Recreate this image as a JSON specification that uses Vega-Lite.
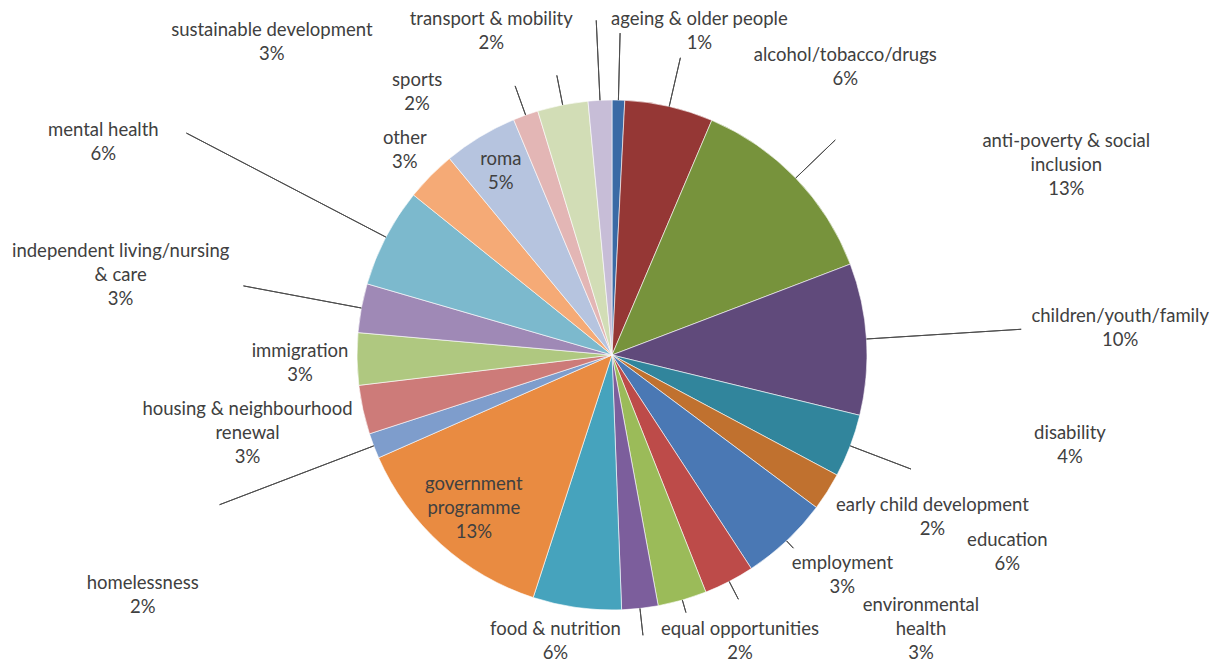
{
  "$schema": "https://vega.github.io/schema/vega-lite/v6.json",
  "width": 1216,
  "height": 614,
  "autosize": {"type": "none"},
  "padding": {"left": 4, "top": 48, "right": 0, "bottom": 0},
  "background": "white",
  "config": {
    "view": {"stroke": null},
    "text": {"font": "Lato", "fontSize": 18.5, "lineHeight": 24, "color": "#404040", "align": "center", "baseline": "middle", "lineBreak": "\n"}
  },
  "data": {
    "values": [
      {"category": "ageing & older people", "percent": 0.8},
      {"category": "alcohol/tobacco/drugs", "percent": 5.6},
      {"category": "anti-poverty & social\ninclusion", "percent": 12.8},
      {"category": "children/youth/family", "percent": 9.6},
      {"category": "disability", "percent": 4.0},
      {"category": "early child development", "percent": 2.4},
      {"category": "education", "percent": 5.6},
      {"category": "employment", "percent": 3.2},
      {"category": "environmental\nhealth", "percent": 3.1},
      {"category": "equal opportunities", "percent": 2.3},
      {"category": "food & nutrition", "percent": 5.6},
      {"category": "government\nprogramme", "percent": 13.4},
      {"category": "homelessness", "percent": 1.6},
      {"category": "housing & neighbourhood\nrenewal", "percent": 3.1},
      {"category": "immigration", "percent": 3.3},
      {"category": "independent living/nursing\n& care", "percent": 3.1},
      {"category": "mental health", "percent": 6.3},
      {"category": "other", "percent": 3.2},
      {"category": "roma", "percent": 4.7},
      {"category": "sports", "percent": 1.6},
      {"category": "sustainable development", "percent": 3.2},
      {"category": "transport & mobility", "percent": 1.5}
    ]
  },
  "transform": [
    {"stack": "percent", "groupby": [], "sort": [{"field": "category", "order": "ascending"}], "as": ["start", "end"]},
    {"calculate": "(datum.start + datum.end) / 2", "as": "mid"},
    {"calculate": "datum.category + '\\n' + format(datum.percent, '.0f') + '%'", "as": "label"}
  ],
  "layer": [
    {
      "mark": {"type": "arc", "radius": 255, "stroke": "#ffffff", "strokeWidth": 0.6},
      "encoding": {
        "theta": {"field": "start", "type": "quantitative", "scale": {"domain": [0, 100]}},
        "theta2": {"field": "end"},
        "color": {
          "field": "category", "type": "nominal", "legend": null,
          "scale": {
            "domain": ["ageing & older people", "alcohol/tobacco/drugs", "anti-poverty & social\ninclusion", "children/youth/family", "disability", "early child development", "education", "employment", "environmental\nhealth", "equal opportunities", "food & nutrition", "government\nprogramme", "homelessness", "housing & neighbourhood\nrenewal", "immigration", "independent living/nursing\n& care", "mental health", "other", "roma", "sports", "sustainable development", "transport & mobility"],
            "range": ["#3a6aa5", "#953735", "#77933c", "#604a7b", "#31859c", "#c0712f", "#4a78b4", "#bd4b49", "#9bbb59", "#7c5e9c", "#46a3bd", "#e98b41", "#7e9dcc", "#cd7b79", "#afc880", "#9f89b6", "#7cb9cd", "#f5aa76", "#b6c4df", "#e3b6b5", "#d2ddb6", "#c7bdd7"]
          }
        }
      }
    },
    {"transform": [{"filter": {"field": "category", "equal": "ageing & older people"}}], "mark": {"type": "arc", "radius": 322, "radius2": 255, "padAngle": 3.1, "filled": false, "color": "#4d4d4d", "strokeWidth": 1}, "encoding": {"theta": {"field": "start", "type": "quantitative"}, "theta2": {"field": "end"}}},
    {"transform": [{"filter": {"field": "category", "equal": "transport & mobility"}}], "mark": {"type": "arc", "radius": 335, "radius2": 255, "padAngle": 3.1, "filled": false, "color": "#4d4d4d", "strokeWidth": 1}, "encoding": {"theta": {"field": "start", "type": "quantitative"}, "theta2": {"field": "end"}}},
    {"transform": [{"filter": {"field": "category", "equal": "sustainable development"}}], "mark": {"type": "arc", "radius": 285, "radius2": 255, "padAngle": 3.1, "filled": false, "color": "#4d4d4d", "strokeWidth": 1}, "encoding": {"theta": {"field": "start", "type": "quantitative"}, "theta2": {"field": "end"}}},
    {"transform": [{"filter": {"field": "category", "equal": "sports"}}], "mark": {"type": "arc", "radius": 286, "radius2": 255, "padAngle": 3.1, "filled": false, "color": "#4d4d4d", "strokeWidth": 1}, "encoding": {"theta": {"field": "start", "type": "quantitative"}, "theta2": {"field": "end"}}},
    {"transform": [{"filter": {"field": "category", "equal": "alcohol/tobacco/drugs"}}], "mark": {"type": "arc", "radius": 305, "radius2": 255, "padAngle": 3.1, "filled": false, "color": "#4d4d4d", "strokeWidth": 1}, "encoding": {"theta": {"field": "start", "type": "quantitative"}, "theta2": {"field": "end"}}},
    {"transform": [{"filter": {"field": "category", "equal": "anti-poverty & social\ninclusion"}}], "mark": {"type": "arc", "radius": 310, "radius2": 255, "padAngle": 3.1, "filled": false, "color": "#4d4d4d", "strokeWidth": 1}, "encoding": {"theta": {"field": "start", "type": "quantitative"}, "theta2": {"field": "end"}}},
    {"transform": [{"filter": {"field": "category", "equal": "children/youth/family"}}], "mark": {"type": "arc", "radius": 410, "radius2": 255, "padAngle": 3.1, "filled": false, "color": "#4d4d4d", "strokeWidth": 1}, "encoding": {"theta": {"field": "start", "type": "quantitative"}, "theta2": {"field": "end"}}},
    {"transform": [{"filter": {"field": "category", "equal": "disability"}}], "mark": {"type": "arc", "radius": 320, "radius2": 255, "padAngle": 3.1, "filled": false, "color": "#4d4d4d", "strokeWidth": 1}, "encoding": {"theta": {"field": "start", "type": "quantitative"}, "theta2": {"field": "end"}}},
    {"transform": [{"filter": {"field": "category", "equal": "education"}}], "mark": {"type": "arc", "radius": 265, "radius2": 255, "padAngle": 3.1, "filled": false, "color": "#4d4d4d", "strokeWidth": 1}, "encoding": {"theta": {"field": "start", "type": "quantitative"}, "theta2": {"field": "end"}}},
    {"transform": [{"filter": {"field": "category", "equal": "employment"}}], "mark": {"type": "arc", "radius": 275, "radius2": 255, "padAngle": 3.1, "filled": false, "color": "#4d4d4d", "strokeWidth": 1}, "encoding": {"theta": {"field": "start", "type": "quantitative"}, "theta2": {"field": "end"}}},
    {"transform": [{"filter": {"field": "category", "equal": "environmental\nhealth"}}], "mark": {"type": "arc", "radius": 268, "radius2": 255, "padAngle": 3.1, "filled": false, "color": "#4d4d4d", "strokeWidth": 1}, "encoding": {"theta": {"field": "start", "type": "quantitative"}, "theta2": {"field": "end"}}},
    {"transform": [{"filter": {"field": "category", "equal": "equal opportunities"}}], "mark": {"type": "arc", "radius": 282, "radius2": 255, "padAngle": 3.1, "filled": false, "color": "#4d4d4d", "strokeWidth": 1}, "encoding": {"theta": {"field": "start", "type": "quantitative"}, "theta2": {"field": "end"}}},
    {"transform": [{"filter": {"field": "category", "equal": "homelessness"}}], "mark": {"type": "arc", "radius": 420, "radius2": 255, "padAngle": 3.1, "filled": false, "color": "#4d4d4d", "strokeWidth": 1}, "encoding": {"theta": {"field": "start", "type": "quantitative"}, "theta2": {"field": "end"}}},
    {"transform": [{"filter": {"field": "category", "equal": "independent living/nursing\n& care"}}], "mark": {"type": "arc", "radius": 375, "radius2": 255, "padAngle": 3.1, "filled": false, "color": "#4d4d4d", "strokeWidth": 1}, "encoding": {"theta": {"field": "start", "type": "quantitative"}, "theta2": {"field": "end"}}},
    {"transform": [{"filter": {"field": "category", "equal": "mental health"}}], "mark": {"type": "arc", "radius": 480, "radius2": 255, "padAngle": 3.1, "filled": false, "color": "#4d4d4d", "strokeWidth": 1}, "encoding": {"theta": {"field": "start", "type": "quantitative"}, "theta2": {"field": "end"}}},
    {"transform": [{"filter": {"field": "category", "equal": "ageing & older people"}}], "mark": {"type": "text", "radius": 335, "dx": 79, "dy": -1}, "encoding": {"theta": {"field": "mid", "type": "quantitative"}, "text": {"field": "label"}}},
    {"transform": [{"filter": {"field": "category", "equal": "alcohol/tobacco/drugs"}}], "mark": {"type": "text", "radius": 300, "dx": 166, "dy": -8}, "encoding": {"theta": {"field": "mid", "type": "quantitative"}, "text": {"field": "label"}}},
    {"transform": [{"filter": {"field": "category", "equal": "anti-poverty & social\ninclusion"}}], "mark": {"type": "text", "radius": 310, "dx": 231, "dy": 1}, "encoding": {"theta": {"field": "mid", "type": "quantitative"}, "text": {"field": "label"}}},
    {"transform": [{"filter": {"field": "category", "equal": "children/youth/family"}}], "mark": {"type": "text", "radius": 410, "dx": 99, "dy": -13}, "encoding": {"theta": {"field": "mid", "type": "quantitative"}, "text": {"field": "label"}}},
    {"transform": [{"filter": {"field": "category", "equal": "disability"}}], "mark": {"type": "text", "radius": 320, "dx": 159, "dy": -36}, "encoding": {"theta": {"field": "mid", "type": "quantitative"}, "text": {"field": "label"}}},
    {"transform": [{"filter": {"field": "category", "equal": "early child development"}}], "mark": {"type": "text", "radius": 280, "dx": 84, "dy": 0}, "encoding": {"theta": {"field": "mid", "type": "quantitative"}, "text": {"field": "label"}}},
    {"transform": [{"filter": {"field": "category", "equal": "education"}}], "mark": {"type": "text", "radius": 265, "dx": 214, "dy": -8}, "encoding": {"theta": {"field": "mid", "type": "quantitative"}, "text": {"field": "label"}}},
    {"transform": [{"filter": {"field": "category", "equal": "employment"}}], "mark": {"type": "text", "radius": 275, "dx": 104, "dy": -36}, "encoding": {"theta": {"field": "mid", "type": "quantitative"}, "text": {"field": "label"}}},
    {"transform": [{"filter": {"field": "category", "equal": "environmental\nhealth"}}], "mark": {"type": "text", "radius": 268, "dx": 235, "dy": -8}, "encoding": {"theta": {"field": "mid", "type": "quantitative"}, "text": {"field": "label"}}},
    {"transform": [{"filter": {"field": "category", "equal": "equal opportunities"}}], "mark": {"type": "text", "radius": 282, "dx": 97, "dy": -6}, "encoding": {"theta": {"field": "mid", "type": "quantitative"}, "text": {"field": "label"}}},
    {"transform": [{"filter": {"field": "category", "equal": "food & nutrition"}}], "mark": {"type": "text", "radius": 280, "dx": -18, "dy": -3}, "encoding": {"theta": {"field": "mid", "type": "quantitative"}, "text": {"field": "label"}}},
    {"transform": [{"filter": {"field": "category", "equal": "government\nprogramme"}}], "mark": {"type": "text", "radius": 206, "dy": -24}, "encoding": {"theta": {"field": "mid", "type": "quantitative"}, "text": {"field": "label"}}},
    {"transform": [{"filter": {"field": "category", "equal": "homelessness"}}], "mark": {"type": "text", "radius": 300, "dx": -189, "dy": 121}, "encoding": {"theta": {"field": "mid", "type": "quantitative"}, "text": {"field": "label"}}},
    {"transform": [{"filter": {"field": "category", "equal": "housing & neighbourhood\nrenewal"}}], "mark": {"type": "text", "radius": 280, "dx": -91, "dy": -6}, "encoding": {"theta": {"field": "mid", "type": "quantitative"}, "text": {"field": "label"}}},
    {"transform": [{"filter": {"field": "category", "equal": "immigration"}}], "mark": {"type": "text", "radius": 280, "dx": -32, "dy": -8}, "encoding": {"theta": {"field": "mid", "type": "quantitative"}, "text": {"field": "label"}}},
    {"transform": [{"filter": {"field": "category", "equal": "independent living/nursing\n& care"}}], "mark": {"type": "text", "radius": 330, "dx": -167, "dy": -43}, "encoding": {"theta": {"field": "mid", "type": "quantitative"}, "text": {"field": "label"}}},
    {"transform": [{"filter": {"field": "category", "equal": "mental health"}}], "mark": {"type": "text", "radius": 400, "dx": -154, "dy": -40}, "encoding": {"theta": {"field": "mid", "type": "quantitative"}, "text": {"field": "label"}}},
    {"transform": [{"filter": {"field": "category", "equal": "other"}}], "mark": {"type": "text", "radius": 280, "dx": -8, "dy": -20}, "encoding": {"theta": {"field": "mid", "type": "quantitative"}, "text": {"field": "label"}}},
    {"transform": [{"filter": {"field": "category", "equal": "roma"}}], "mark": {"type": "text", "radius": 215, "dy": -12}, "encoding": {"theta": {"field": "mid", "type": "quantitative"}, "text": {"field": "label"}}},
    {"transform": [{"filter": {"field": "category", "equal": "sports"}}], "mark": {"type": "text", "radius": 280, "dx": -100, "dy": -12}, "encoding": {"theta": {"field": "mid", "type": "quantitative"}, "text": {"field": "label"}}},
    {"transform": [{"filter": {"field": "category", "equal": "sustainable development"}}], "mark": {"type": "text", "radius": 285, "dx": -285, "dy": -45}, "encoding": {"theta": {"field": "mid", "type": "quantitative"}, "text": {"field": "label"}}},
    {"transform": [{"filter": {"field": "category", "equal": "transport & mobility"}}], "mark": {"type": "text", "radius": 335, "dx": -105, "dy": -1}, "encoding": {"theta": {"field": "mid", "type": "quantitative"}, "text": {"field": "label"}}}
  ]
}
